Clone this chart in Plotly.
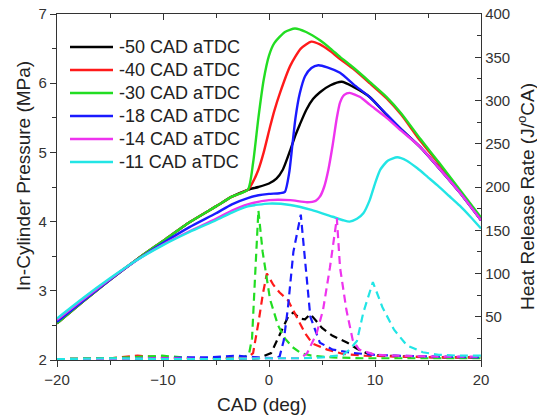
import plotly.graph_objects as go

# ---------------- data ----------------
labels = ["-50 CAD aTDC", "-40 CAD aTDC", "-30 CAD aTDC",
          "-18 CAD aTDC", "-14 CAD aTDC", "-11 CAD aTDC"]
colors = ["#000000", "#ff1a1a", "#22dd22", "#1a1aff", "#ee33ee", "#22e5e5"]

# In-cylinder pressure (MPa)
comp_x = [-20, -17.5, -15, -12.5, -10, -7.5, -5, -3.5, -2]
comp_y = [2.53, 2.85, 3.16, 3.45, 3.72, 3.99, 4.22, 4.36, 4.46]

p_black_x = comp_x + [-1, 0, 0.7, 1.3, 2.0, 2.5, 2.9, 3.5, 4.15, 4.81, 5.8, 6.86, 7.92,
                      9.5, 11.1, 12.5, 14.25, 16, 18, 20]
p_black_y = comp_y + [4.5, 4.55, 4.62, 4.75, 5.03, 5.25, 5.4, 5.61, 5.77, 5.87, 5.97, 6.02, 5.95,
                      5.8, 5.54, 5.33, 5.08, 4.78, 4.42, 4.02]

p_red_x = comp_x + [-1.6, -1, -0.5, 0.1, 0.5, 1.04, 2, 3, 4.0, 4.81, 5.8, 6.7, 7.92,
                    9.5, 11.1, 12.5, 14.25, 16, 18, 20]
p_red_y = comp_y + [4.55, 4.75, 5.0, 5.37, 5.6, 5.86, 6.25, 6.5, 6.6, 6.56, 6.46, 6.35, 6.21,
                    6.0, 5.78, 5.54, 5.17, 4.84, 4.44, 4.04]

p_green_x = comp_x + [-1.5, -1, -0.5, 0, 0.5, 1.5, 2.45, 3.5, 4.81, 5.8, 6.7, 7.92,
                      9.5, 11.1, 12.5, 14.25, 16, 18, 20]
p_green_y = comp_y + [4.85, 5.5, 6.05, 6.4, 6.58, 6.74, 6.79, 6.74, 6.62, 6.5, 6.38, 6.23,
                      6.02, 5.8, 5.56, 5.2, 4.86, 4.46, 4.06]

p_blue_x = [-20, -17.5, -15, -12.5, -10, -7.5, -5, -3.5, -2, -1, 0, 1, 1.5, 1.9, 2.2, 2.5,
            2.9, 3.4, 4, 4.65, 5.5, 6.7, 8, 9.5, 11.1, 12.5, 14.25, 16, 18, 20]
p_blue_y = [2.55, 2.86, 3.16, 3.44, 3.69, 3.92, 4.12, 4.25, 4.34, 4.38, 4.40, 4.41, 4.43, 4.7,
            5.1, 5.5, 5.85, 6.1, 6.22, 6.26, 6.23, 6.15, 5.98, 5.8, 5.55, 5.33, 5.08, 4.78,
            4.42, 4.02]

p_pink_x = [-20, -17.5, -15, -12.5, -10, -7.5, -5, -3.5, -2, 0, 2, 3.6, 4.4, 4.8, 5.2, 5.6,
            6.0, 6.4, 6.7, 7.1, 7.6, 8.6, 9.5, 11.1, 12.5, 14.25, 16, 18, 20]
p_pink_y = [2.58, 2.88, 3.17, 3.44, 3.67, 3.86, 4.04, 4.16, 4.25, 4.31, 4.31, 4.28, 4.3, 4.36,
            4.5, 4.75, 5.1, 5.5, 5.72, 5.83, 5.86, 5.8, 5.69, 5.5, 5.31, 5.08, 4.78, 4.42, 4.02]

p_cyan_x = [-20, -17.5, -15, -12.5, -10, -7.5, -5, -3.5, -2, 0, 2, 4, 6, 7, 7.6, 8.3, 8.9,
            9.5, 10, 10.5, 11.2, 12.1, 13, 14, 15, 16, 17, 18, 19, 20]
p_cyan_y = [2.6, 2.9, 3.18, 3.44, 3.66, 3.85, 4.02, 4.13, 4.22, 4.26, 4.24, 4.17, 4.07, 4.02,
            4.0, 4.04, 4.12, 4.31, 4.55, 4.75, 4.88, 4.93, 4.88, 4.77, 4.64, 4.51, 4.37, 4.23,
            4.07, 3.9]

# Heat release rate (J/oCA)
h_black_x = [-20, -15, -12, -9, -6, -3, -1, 0.2, 0.6, 1.2, 1.8, 2.3, 2.9, 3.4, 3.9, 4.4, 5.0,
             6.0, 7.4, 8.3, 9.2, 10.5, 13, 16, 20]
h_black_y = [1, 2, 1, 2, 1, 2, 2, 8, 19, 35, 50, 55, 48, 47, 53, 46, 37, 28, 20, 13, 8, 5, 4, 3, 3]

h_red_x = [-20, -15, -12.4, -9, -6, -3, -2, -1.5, -1.0, -0.57, -0.2, 0.4, 1.0, 1.8, 2.6, 3.4,
           4.1, 5.5, 7, 9, 12, 16, 20]
h_red_y = [1, 2, 5, 2, 2, 2, 3, 8, 43, 77, 100, 87, 78, 69, 50, 31, 19, 12, 7, 5, 4, 3, 3]

h_green_x = [-20, -15, -10.1, -7, -4, -2.5, -1.9, -1.6, -1.3, -1.0, -0.6, 0.1, 0.85, 1.5, 2.2,
             3, 4, 6, 9, 13, 20]
h_green_y = [1, 2, 5, 2, 2, 3, 6, 25, 100, 173, 125, 70, 40, 25, 15, 8, 5, 3, 2, 2, 2]

h_blue_x = [-20, -15, -10, -7.7, -5.6, -3.2, -1, 0.5, 1.0, 1.4, 1.8, 2.3, 3.0, 3.4, 3.9, 4.8,
            6, 8, 10, 12, 16, 20]
h_blue_y = [1, 1, 2, 3, 3, 5, 3, 2, 4, 23, 62, 125, 168, 115, 50, 20, 12, 8, 6, 5, 4, 3]

h_pink_x = [-20, -15, -10, -5, -2, 0, 2, 3.0, 3.6, 4.5, 5.1, 5.75, 6.4, 6.7, 7.3, 7.9, 8.5,
            10, 12, 16, 20]
h_pink_y = [1, 1, 2, 1, 2, 2, 2, 2, 8, 31, 58, 107, 164, 107, 58, 23, 12, 6, 5, 4, 4]

h_cyan_x = [-20, -15, -10, -5, 0, 3, 5, 7, 7.6, 8.3, 8.9, 9.8, 10.7, 11.8, 13.0, 14.5, 16, 18, 20]
h_cyan_y = [1, 2, 1, 1, 2, 2, 3, 6, 12, 22, 55, 90, 61, 35, 17, 9, 6, 5, 5]

x_ticks = [-20, -10, 0, 10, 20]
y_ticks = [2, 3, 4, 5, 6, 7]
y2_ticks = [50, 100, 150, 200, 250, 300, 350, 400]

pressure = [(p_black_x, p_black_y), (p_red_x, p_red_y), (p_green_x, p_green_y),
            (p_blue_x, p_blue_y), (p_pink_x, p_pink_y), (p_cyan_x, p_cyan_y)]
hrr = [(h_black_x, h_black_y), (h_red_x, h_red_y), (h_green_x, h_green_y),
       (h_blue_x, h_blue_y), (h_pink_x, h_pink_y), (h_cyan_x, h_cyan_y)]

FONT = "Liberation Sans, Arial, sans-serif"
AX = "#333333"
W, H = 537, 419
ML, MR, MT, MB = 57, 56, 14, 59
PW, PH = W - ML - MR, H - MT - MB


def xp(px):  # pixel -> paper x
    return (px - ML) / PW


def yp(py):  # pixel -> paper y
    return 1 - (py - MT) / PH


fig = go.Figure()

for (hx, hy), c in zip(hrr, colors):
    fig.add_trace(go.Scatter(x=hx, y=hy, mode="lines", yaxis="y2",
                             line=dict(color=c, width=2.2, dash="8px,5px"),
                             showlegend=False, hoverinfo="skip"))

for (px, py), c, name in zip(pressure, colors, labels):
    fig.add_trace(go.Scatter(x=px, y=py, mode="lines", name=name, showlegend=False,
                             line=dict(color=c, width=2.4, shape="spline", smoothing=0.6)))

# dummy trace so the top mirror axis is drawn
fig.add_trace(go.Scatter(x=[None], y=[None], xaxis="x2", showlegend=False, hoverinfo="skip"))

# legend (swatches + labels)
shapes = []
annotations = []
for i, (c, name) in enumerate(zip(colors, labels)):
    cy = 47 + 23 * i
    shapes.append(dict(type="line", xref="paper", yref="paper",
                       x0=xp(70), x1=xp(113), y0=yp(cy), y1=yp(cy),
                       line=dict(color=c, width=2.6)))
    annotations.append(dict(xref="paper", yref="paper", x=xp(117), y=yp(cy),
                            xanchor="left", yanchor="middle", showarrow=False,
                            text=name, font=dict(size=18, color="#222222")))

# axis titles
annotations.append(dict(xref="paper", yref="paper", x=xp(262), y=yp(404),
                        xanchor="center", yanchor="middle", showarrow=False,
                        text="CAD (deg)", font=dict(size=19, color="#222222")))
annotations.append(dict(xref="paper", yref="paper", x=xp(23), y=yp(176),
                        xanchor="center", yanchor="middle", showarrow=False, textangle=-90,
                        text="In-Cylinder Pressure (MPa)", font=dict(size=19, color="#222222")))
annotations.append(dict(xref="paper", yref="paper", x=xp(526), y=yp(197),
                        xanchor="center", yanchor="middle", showarrow=False, textangle=-90,
                        text="Heat Release Rate (J/<sup>o</sup>CA)",
                        font=dict(size=19, color="#222222")))

fig.update_layout(
    width=W, height=H,
    margin=dict(l=ML, r=MR, t=MT, b=MB, autoexpand=False),
    paper_bgcolor="white", plot_bgcolor="white",
    font=dict(family=FONT, size=15, color="#333333"),
    showlegend=False,
    shapes=shapes, annotations=annotations,
    xaxis=dict(range=[-20, 20], tickvals=x_ticks, ticks="outside", ticklen=6,
               tickcolor=AX, tickwidth=1.2, showline=True, linecolor=AX, linewidth=1.3,
               showgrid=False, zeroline=False, automargin=False,
               minor=dict(tickvals=[-15, -5, 5, 15], ticks="outside", ticklen=4,
                          tickcolor=AX, tickwidth=1.2)),
    xaxis2=dict(range=[-20, 20], overlaying="x", side="top", tickvals=x_ticks,
                ticks="inside", ticklen=6, tickcolor=AX, tickwidth=1.2,
                showticklabels=False, showline=True, linecolor=AX, linewidth=1.3,
                showgrid=False, zeroline=False, automargin=False,
                minor=dict(tickvals=[-15, -5, 5, 15], ticks="inside", ticklen=4,
                           tickcolor=AX, tickwidth=1.2)),
    yaxis=dict(range=[2, 7], tickvals=y_ticks, ticks="outside", ticklen=6,
               tickcolor=AX, tickwidth=1.2, showline=True, linecolor=AX, linewidth=1.3,
               showgrid=False, zeroline=False, automargin=False,
               minor=dict(tickvals=[2.5, 3.5, 4.5, 5.5, 6.5], ticks="outside", ticklen=4,
                          tickcolor=AX, tickwidth=1.2)),
    yaxis2=dict(range=[0, 400], overlaying="y", side="right", tickvals=y2_ticks,
                ticks="inside", ticklen=6, tickcolor=AX, tickwidth=1.2,
                showline=True, linecolor=AX, linewidth=1.3, showgrid=False, zeroline=False,
                automargin=False,
                minor=dict(tickvals=[25, 75, 125, 175, 225, 275, 325, 375], ticks="inside",
                           ticklen=4, tickcolor=AX, tickwidth=1.2)),
)

fig.write_html("out.html")
